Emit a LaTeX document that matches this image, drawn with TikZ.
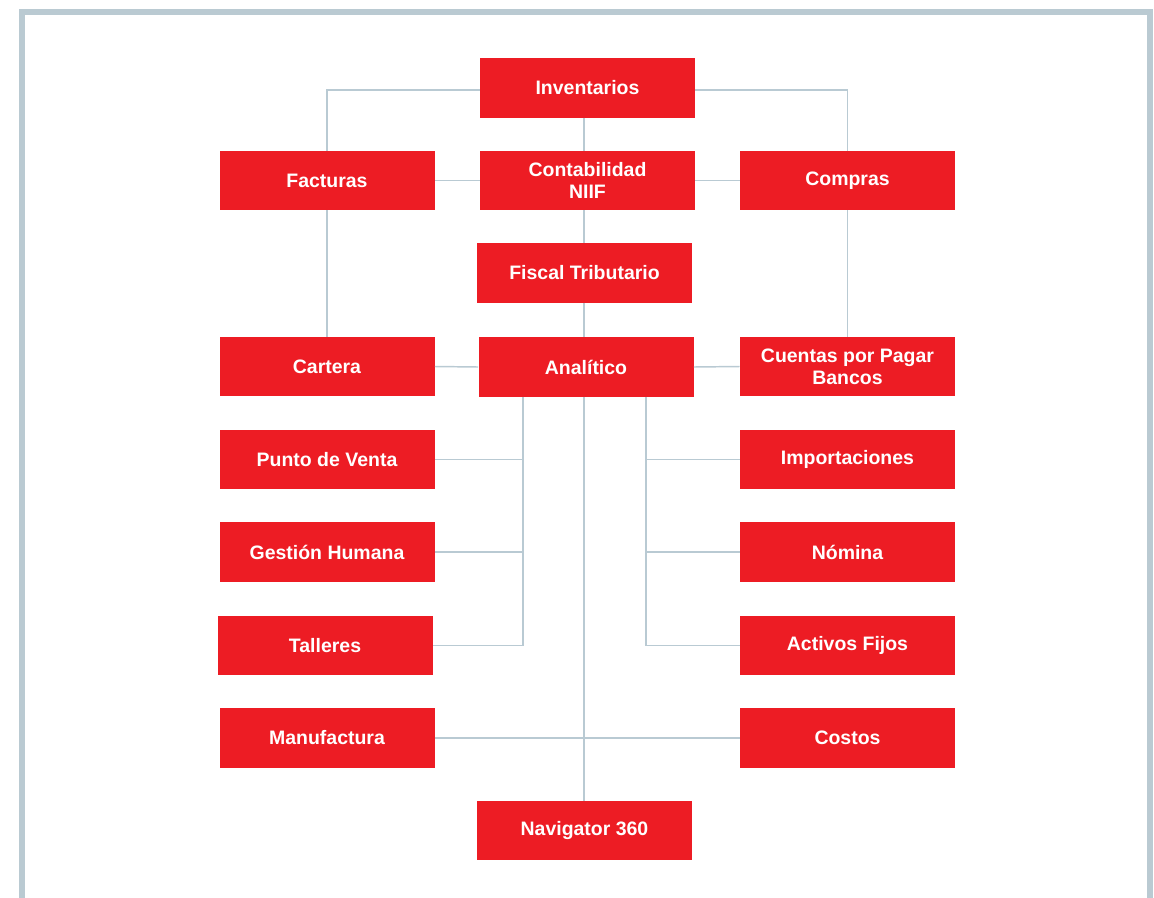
\documentclass[tikz,border=0pt]{standalone}
\usepackage{fontspec}
\setmainfont{Liberation Sans}
\definecolor{boxred}{HTML}{ED1C24}
\definecolor{linegray}{HTML}{B9CAD3}
\definecolor{framegray}{HTML}{BACAD2}
\begin{document}
\begin{tikzpicture}[x=0.75pt,y=-0.75pt,
  box/.style={fill=boxred, draw=none, inner sep=0pt, minimum width=161.25pt, minimum height=44.5pt,
    text=white, font=\fontsize{14.6}{16.5}\selectfont\bfseries, align=center},
  conn/.style={draw=linegray, line width=1.1pt}]
\useasboundingbox (0,0) rectangle (1154,897);
\fill[white] (0,0) rectangle (1154,897);
% frame
\draw[framegray, line width=4.5pt] (22,900) -- (22,12) -- (1150,12) -- (1150,900);
% spine coordinates
\coordinate (sp) at (584,0);
\coordinate (lb) at (523,0);
\coordinate (rb) at (646,0);
% nodes
\node[box] (inv) at (587.5,88) {Inventarios};
\node[box] (fac) at (327,180.5) {Facturas};
\node[box] (con) at (587.5,180.5) {Contabilidad\\NIIF};
\node[box] (com) at (847.5,180.5) {Compras};
\node[box] (fis) at (584.5,273) {Fiscal Tributario};
\node[box] (car) at (327,366.5) {Cartera};
\node[box] (ana) at (586,367) {Analítico};
\node[box] (cue) at (847.5,366.5) {Cuentas por Pagar\\Bancos};
\node[box] (pun) at (327,459.5) {Punto de Venta};
\node[box] (imp) at (847.5,459.5) {Importaciones};
\node[box] (ges) at (327,552) {Gestión Humana};
\node[box] (nom) at (847.5,552) {Nómina};
\node[box] (tal) at (325,645.5) {Talleres};
\node[box] (act) at (847.5,645.5) {Activos Fijos};
\node[box] (man) at (327,738) {Manufactura};
\node[box] (cos) at (847.5,738) {Costos};
\node[box] (nav) at (584.5,830.5) {Navigator 360};
% connectors
\draw[conn] ([yshift=-1.5pt]inv.west) -| (fac.north);
\draw[conn] ([yshift=-1.5pt]inv.east) -| (com.north);
\draw[conn] (inv.south -| sp) -- (con.north -| sp);
\draw[conn] (con.west) -- (fac.east);
\draw[conn] (con.east) -- (com.west);
\draw[conn] (con.south -| sp) -- (fis.north -| sp);
\draw[conn] (fis.south -| sp) -- (ana.north -| sp);
\draw[conn] (fac.south) -- (car.north);
\draw[conn] (com.south) -- (cue.north);
\draw[conn] (ana.west) -- (car.east);
\draw[conn] (ana.east) -- (cue.west);
\draw[conn] (ana.south -| lb) -- (tal.east -| lb) -- (tal.east);
\draw[conn] (pun.east) -- (pun.east -| lb);
\draw[conn] (ges.east) -- (ges.east -| lb);
\draw[conn] (ana.south -| rb) -- (act.west -| rb) -- (act.west);
\draw[conn] (imp.west) -- (imp.west -| rb);
\draw[conn] (nom.west) -- (nom.west -| rb);
\draw[conn] (ana.south -| sp) -- (nav.north -| sp);
\draw[conn] (man.east) -- (cos.west);
\end{tikzpicture}
\end{document}
